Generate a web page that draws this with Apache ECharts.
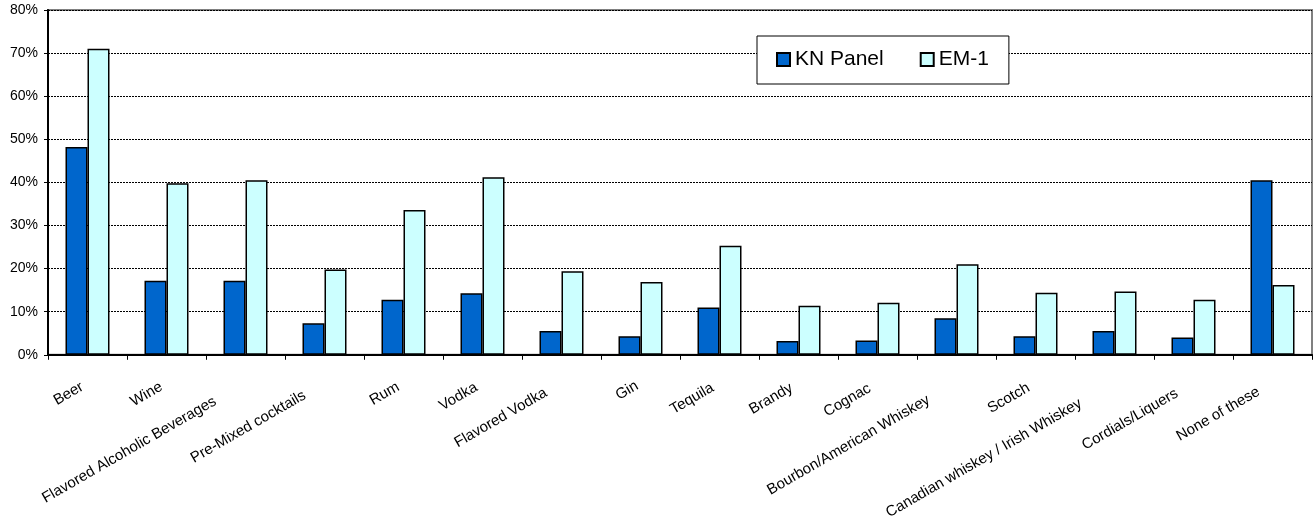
<!DOCTYPE html>
<html>
<head>
<meta charset="utf-8">
<script src="https://cdn.jsdelivr.net/npm/echarts@6/dist/echarts.min.js"></script>
<style>
  html, body { margin: 0; padding: 0; background: #ffffff; }
  #chart { width: 1314px; height: 522px; }
</style>
</head>
<body>
<div id="chart"></div>
<script>
// Drink categories along the x axis
const categories = [
  'Beer', 'Wine', 'Flavored Alcoholic Beverages', 'Pre-Mixed cocktails', 'Rum',
  'Vodka', 'Flavored Vodka', 'Gin', 'Tequila', 'Brandy', 'Cognac',
  'Bourbon/American Whiskey', 'Scotch', 'Canadian whiskey / Irish Whiskey',
  'Cordials/Liquers', 'None of these'
];

// Share of respondents (%) per panel
const knPanel = [48.2, 17.2, 17.2, 7.3, 12.8, 14.3, 5.5, 4.3, 11.0, 3.2, 3.3, 8.5, 4.3, 5.5, 4.0, 40.5];
const em1     = [71.0, 39.8, 40.5, 19.8, 33.6, 41.2, 19.4, 16.9, 25.3, 11.4, 12.1, 21.0, 14.4, 14.7, 12.8, 16.2];

const seriesNames = ['KN Panel', 'EM-1'];

// Percentage axis ticks
const yTicks = [0, 10, 20, 30, 40, 50, 60, 70, 80];

const FONT = '"Liberation Sans", Arial, Helvetica, sans-serif';
const X_LABEL_SIZE = 15;

// Rotated labels are pinned a little before their end, so longer
// names sit lower and further left; measure each to find its shift.
const measureCtx = document.createElement('canvas').getContext('2d');
measureCtx.font = X_LABEL_SIZE + 'px ' + FONT;
const labelRich = {};
categories.forEach((name, i) => {
  const w = measureCtx.measureText(name).width;
  labelRich['c' + i] = {
    fontFamily: FONT,
    fontSize: X_LABEL_SIZE,
    color: '#000',
    padding: [0, Math.round(w * 0.174), 0, 0]
  };
});

const chart = echarts.init(document.getElementById('chart'), null, { renderer: 'canvas' });

chart.setOption({
  animation: false,
  backgroundColor: '#ffffff',
  textStyle: { fontFamily: FONT, color: '#000' },
  grid: {
    left: 48, right: 2, top: 10, bottom: 165,
    show: true,
    borderColor: '#808080',
    borderWidth: 2,
    backgroundColor: 'transparent'
  },
  legend: {
    data: seriesNames,
    icon: 'rect',
    left: 757,
    top: 36,
    orient: 'horizontal',
    itemWidth: 13,
    itemHeight: 13,
    itemGap: 36,
    padding: [13, 20, 14, 19],
    backgroundColor: '#ffffff',
    borderColor: '#000',
    borderWidth: 1,
    textStyle: { fontFamily: FONT, fontSize: 21, color: '#000' }
  },
  xAxis: {
    type: 'category',
    data: categories,
    boundaryGap: true,
    axisLine: { show: true, lineStyle: { color: '#000', width: 2 } },
    axisTick: { show: true, length: 5, inside: false, lineStyle: { color: '#000', width: 1 } },
    axisLabel: {
      interval: 0,
      rotate: 30,
      margin: 28,
      hideOverlap: false,
      formatter: (value, idx) => '{c' + idx + '|' + value + '}',
      rich: labelRich
    },
    splitLine: { show: false }
  },
  yAxis: {
    type: 'value',
    min: yTicks[0],
    max: yTicks[yTicks.length - 1],
    interval: yTicks[1] - yTicks[0],
    axisLine: { show: true, lineStyle: { color: '#000', width: 2 } },
    axisTick: { show: true, length: 4, inside: false, lineStyle: { color: '#000', width: 1 } },
    axisLabel: {
      margin: 10,
      fontFamily: FONT,
      fontSize: 14,
      color: '#000',
      formatter: '{value}%'
    },
    splitLine: { show: true, lineStyle: { color: '#000', width: 1, type: [2, 1] } }
  },
  series: [
    {
      name: seriesNames[0],
      type: 'bar',
      data: knPanel,
      barWidth: 22,
      barGap: '0%',
      itemStyle: { color: '#0066CC', borderColor: '#000', borderWidth: 1.5 }
    },
    {
      name: seriesNames[1],
      type: 'bar',
      data: em1,
      barWidth: 22,
      barGap: '0%',
      itemStyle: { color: '#CCFFFF', borderColor: '#000', borderWidth: 1.5 }
    }
  ]
});
</script>
</body>
</html>
